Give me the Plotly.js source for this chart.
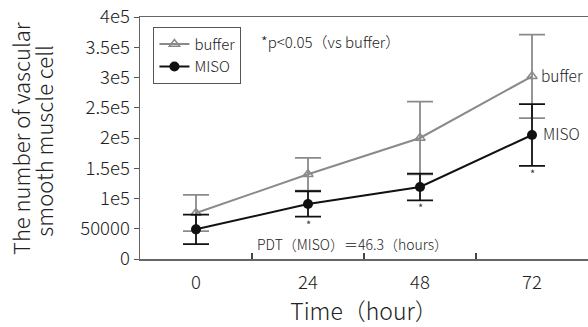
<!DOCTYPE html>
<html>
<head>
<meta charset="utf-8">
<script src="https://cdn.plot.ly/plotly-3.0.1.min.js"></script>
<style>html,body{margin:0;padding:0;background:#fff;}#chart{width:588px;height:327px;}</style>
</head>
<body>
<div id="chart"></div>
<script>
const hours = [0, 24, 48, 72];
const bufferMean = [76000, 140000, 200000, 302000];
const bufferErr = [30000, 27000, 60000, 69000];
const misoMean = [49000, 91000, 119000, 205000];
const misoErr = [24500, 21000, 22000, 51000];
const significant = [false, true, true, true];
const yTickVals = [0, 50000, 100000, 150000, 200000, 250000, 300000, 350000, 400000];
const yTickText = ['0', '50000', '1e5', '1.5e5', '2e5', '2.5e5', '3e5', '3.5e5', '4e5'];
const xMinorTicks = [12, 36, 60];
const yTitleLines = ['The number of vascular', 'smooth muscle cell'];

const FONT = '"Noto Sans CJK JP", "Noto Sans", sans-serif';
const W = 300;
const TXT = '#222';
const GRAY = '#8a8a8a';
const BLACK = '#111111';

const traces = [
  {
    x: hours, y: bufferMean, name: 'buffer', type: 'scatter', mode: 'lines+markers',
    line: {color: GRAY, width: 2},
    marker: {symbol: 'triangle-up-open', size: 9, color: GRAY, line: {width: 1.5, color: GRAY}},
    error_y: {type: 'data', array: bufferErr, visible: true, color: GRAY, thickness: 1.8, width: 13}
  },
  {
    x: hours, y: misoMean, name: 'MISO', type: 'scatter', mode: 'lines+markers',
    line: {color: BLACK, width: 2},
    marker: {symbol: 'circle', size: 10, color: BLACK},
    error_y: {type: 'data', array: misoErr, visible: true, color: BLACK, thickness: 1.8, width: 13}
  }
];

const annotations = [
  {xref: 'paper', yref: 'paper', x: 0.265, y: 0.90, xanchor: 'left', yanchor: 'middle', showarrow: false,
   text: '*p<0.05（vs buffer）', font: {family: FONT, size: 15, color: TXT, weight: W}},
  {xref: 'paper', yref: 'paper', x: 0.257, y: 0.064, xanchor: 'left', yanchor: 'middle', showarrow: false,
   text: 'PDT（MISO）＝46.3（hours）', font: {family: FONT, size: 14, color: TXT, weight: W}},
  {x: hours[3], y: bufferMean[3], xanchor: 'left', yanchor: 'middle', xshift: 7, yshift: 1, showarrow: false,
   text: 'buffer', font: {family: FONT, size: 15.5, color: TXT, weight: W}},
  {x: hours[3], y: misoMean[3], xanchor: 'left', yanchor: 'middle', xshift: 9, yshift: 2, showarrow: false,
   text: 'MISO', font: {family: FONT, size: 15.5, color: TXT, weight: W}},
  {xref: 'paper', yref: 'paper', x: -0.268, y: 0.50, xanchor: 'center', yanchor: 'middle', textangle: -90, showarrow: false,
   text: yTitleLines[0], font: {family: FONT, size: 22, color: TXT, weight: W}},
  {xref: 'paper', yref: 'paper', x: -0.216, y: 0.49, xanchor: 'center', yanchor: 'middle', textangle: -90, showarrow: false,
   text: yTitleLines[1], font: {family: FONT, size: 22, color: TXT, weight: W}}
];
hours.forEach((h, i) => {
  if (significant[i]) {
    annotations.push({x: h, y: misoMean[i] - misoErr[i], xanchor: 'center', yanchor: 'top', yshift: 3,
      showarrow: false, text: '*', font: {family: FONT, size: 11, color: '#333', weight: 400}});
  }
});

const layout = {
  width: 588, height: 327,
  margin: {l: 140, r: 0, t: 17, b: 68},
  paper_bgcolor: '#fff', plot_bgcolor: '#fff',
  showlegend: true,
  legend: {x: 0.03, y: 0.96, xanchor: 'left', yanchor: 'top', bgcolor: '#fff', bordercolor: '#555', borderwidth: 1,
    font: {family: FONT, size: 15, color: TXT, weight: W}, tracegroupgap: 0, itemwidth: 30},
  xaxis: {
    range: [-12, 84], tickvals: hours, ticktext: hours.map(String), ticks: '',
    showline: true, linecolor: '#666', linewidth: 1.5, mirror: true, showgrid: false, zeroline: false,
    tickfont: {family: FONT, size: 18.5, color: TXT, weight: W}, ticklabelstandoff: 6,
    minor: {tickvals: xMinorTicks, ticks: 'inside', ticklen: 6, tickcolor: '#444', tickwidth: 1.2, showgrid: false},
    title: {text: 'Time（hour）', font: {family: FONT, size: 23, color: TXT, weight: W}, standoff: 8}
  },
  yaxis: {
    range: [0, 400000], tickvals: yTickVals, ticktext: yTickText, ticks: 'outside', ticklen: 5,
    tickcolor: '#555', showline: true, linecolor: '#666', linewidth: 1.5, showgrid: false, zeroline: false,
    tickfont: {family: FONT, size: 18.5, color: TXT, weight: W}
  },
  annotations: annotations
};

Plotly.newPlot('chart', traces, layout, {displayModeBar: false, staticPlot: true});
</script>
</body>
</html>
